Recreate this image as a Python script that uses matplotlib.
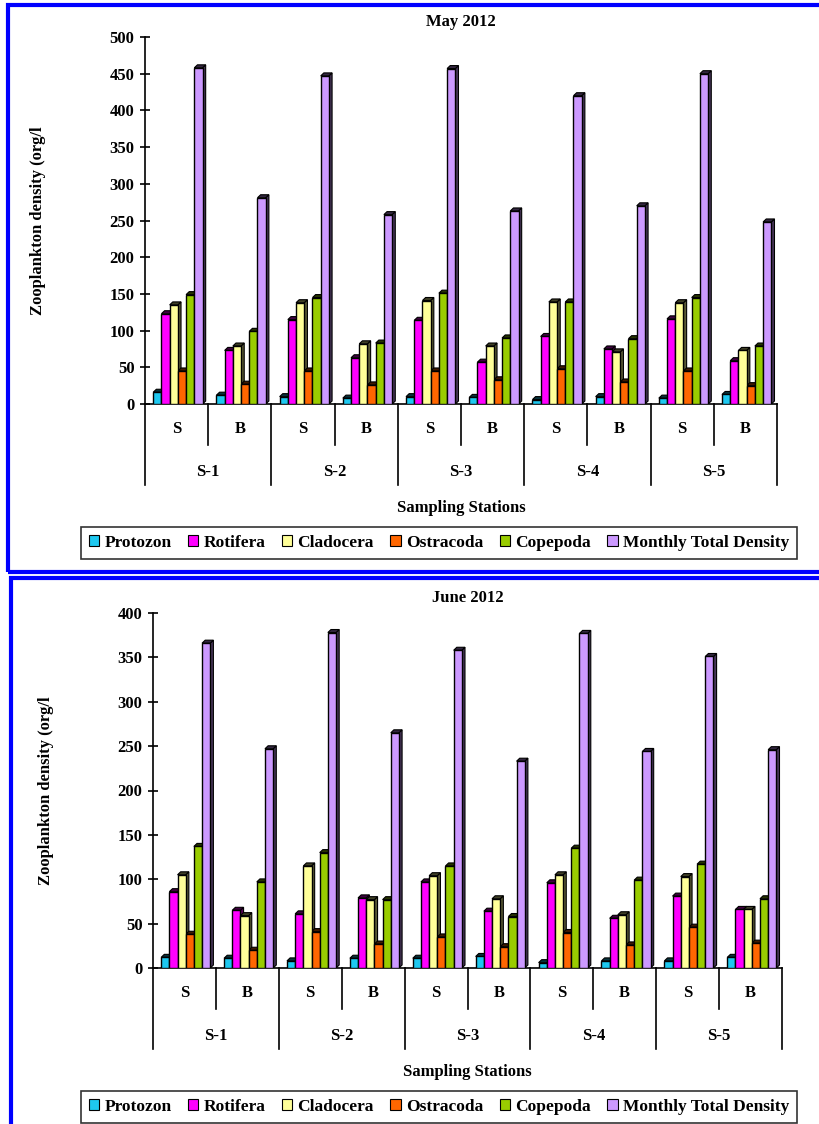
import matplotlib
matplotlib.use('Agg')
import matplotlib.pyplot as plt
from matplotlib.patches import Polygon, Rectangle, Patch
from matplotlib.colors import to_rgb

plt.rcParams['font.family'] = ['Liberation Serif', 'DejaVu Serif']
plt.rcParams['font.weight'] = 'bold'

stations = ['S-1', 'S-2', 'S-3', 'S-4', 'S-5']
depths = ['S', 'B']
groups = ['Protozon', 'Rotifera', 'Cladocera', 'Ostracoda', 'Copepoda',
          'Monthly Total Density']
colors = ['#1ec8f0', '#ff00ff', '#ffff99', '#ff6600', '#99cc00', '#cc99ff']

# May 2012, order S-1 S, S-1 B, S-2 S ... S-5 B
may_protozoa = [16, 12, 10, 8, 10, 9, 6, 10, 8, 13]
may_rotifera = [123, 73, 115, 63, 114, 57, 92, 75, 116, 59]
may_cladocera = [135, 79, 138, 82, 141, 79, 139, 71, 138, 73]
may_ostracoda = [45, 27, 45, 26, 45, 33, 48, 30, 45, 25]
may_copepoda = [149, 99, 145, 83, 151, 90, 139, 89, 145, 79]
may_total = [458, 281, 447, 258, 457, 263, 420, 270, 450, 248]

# June 2012
jun_protozoa = [12, 11, 8, 11, 11, 13, 6, 8, 8, 12]
jun_rotifera = [86, 65, 61, 79, 97, 64, 96, 56, 81, 66]
jun_cladocera = [105, 59, 115, 77, 104, 78, 105, 60, 103, 66]
jun_ostracoda = [38, 20, 41, 27, 35, 24, 40, 26, 46, 28]
jun_copepoda = [137, 97, 130, 77, 115, 58, 135, 99, 117, 78]
jun_total = [366, 247, 378, 265, 358, 233, 377, 244, 351, 246]

W, H = 819, 1124
fig = plt.figure(figsize=(W / 100, H / 100), dpi=100)


def shade(c, f):
    r, g, b = to_rgb(c)
    return (r * f, g * f, b * f)


def panel(rect_px, ymax, title, series, leg_x=439):
    x0, y0, x1, y1 = rect_px
    ax = fig.add_axes([x0 / W, 1 - y1 / H, (x1 - x0) / W, (y1 - y0) / H])
    ax.set_xlim(0, 10)
    ax.set_ylim(0, ymax)
    hpx = y1 - y0
    dx = 0.05
    dy = 3.0 * ymax / hpx
    bw = 0.13
    start = 0.13
    for i in range(10):
        for j, vals in enumerate(series):
            v = vals[i]
            l = i + start + j * bw
            c = colors[j]
            side = Polygon([(l + bw, 0), (l + bw + dx, dy), (l + bw + dx, v + dy), (l + bw, v)],
                           closed=True, facecolor=shade(c, 0.35), edgecolor='black', lw=0.8, zorder=3)
            top = Polygon([(l, v), (l + dx, v + dy), (l + bw + dx, v + dy), (l + bw, v)],
                          closed=True, facecolor=shade(c, 0.25), edgecolor='black', lw=0.8, zorder=3)
            ax.add_patch(side)
            ax.add_patch(top)
            ax.bar(l, v, width=bw, align='edge', color=c, edgecolor='black', lw=1.0, zorder=4)
    for s in ['top', 'right']:
        ax.spines[s].set_visible(False)
    ax.spines['left'].set_linewidth(1.2)
    ax.spines['bottom'].set_linewidth(1.2)
    ax.set_xticks([])
    ax.set_yticks(range(0, ymax + 1, 50))
    ax.tick_params(axis='y', direction='inout', length=7, width=1.2, labelsize=12, pad=4)
    for t in ax.get_yticklabels():
        t.set_fontweight('bold')

    # category rows under the axis
    tr = ax.get_xaxis_transform()
    f = lambda px: -px / hpx
    for k in range(11):
        low = 81 if k % 2 == 0 else 41
        ax.plot([k, k], [0, f(low)], transform=tr, color='black', lw=1.2, clip_on=False)
    for i in range(10):
        ax.text(i + 0.5, f(25), depths[i % 2], transform=tr, ha='center', va='center',
                fontsize=12, fontweight='bold')
    for n, st in enumerate(stations):
        ax.text(2 * n + 1, f(68), st, transform=tr, ha='center', va='center',
                fontsize=12, fontweight='bold')
    ax.text(5, f(104), 'Sampling Stations', transform=tr, ha='center', va='center',
            fontsize=12, fontweight='bold')
    ax.set_ylabel('Zooplankton density (org/l', fontsize=12, fontweight='bold', labelpad=46)
    ax.set_title(title, fontsize=12, fontweight='bold', pad=8)

    handles = [Patch(facecolor=c, edgecolor='black', lw=0.8) for c in colors]
    leg = ax.legend(handles, groups, ncol=6, loc='center',
                    bbox_to_anchor=((leg_x - x0) / (x1 - x0), f(139)),
                    bbox_transform=ax.transAxes, frameon=True, fancybox=False,
                    handlelength=0.6, handleheight=0.6, handletextpad=0.3,
                    columnspacing=0.95, borderpad=0.45, prop={'size': 12.5, 'weight': 'bold'})
    leg.get_frame().set_edgecolor('black')
    leg.get_frame().set_linewidth(1.2)
    return ax


panel((145, 37, 777, 404), 500, 'May 2012',
      [may_protozoa, may_rotifera, may_cladocera, may_ostracoda, may_copepoda, may_total])
panel((153, 613, 782, 968), 400, 'June 2012',
      [jun_protozoa, jun_rotifera, jun_cladocera, jun_ostracoda, jun_copepoda, jun_total])

# blue frames around the two panels
fig.patches.append(Rectangle((8 / W, 1 - 572 / H), 830 / W, 567 / H, transform=fig.transFigure,
                             fill=False, edgecolor='#0000ff', lw=3))
fig.patches.append(Rectangle((11 / W, -0.05), 830 / W, 1 - 578 / H + 0.05, transform=fig.transFigure,
                             fill=False, edgecolor='#0000ff', lw=3))

fig.savefig('out.png', dpi=100)
